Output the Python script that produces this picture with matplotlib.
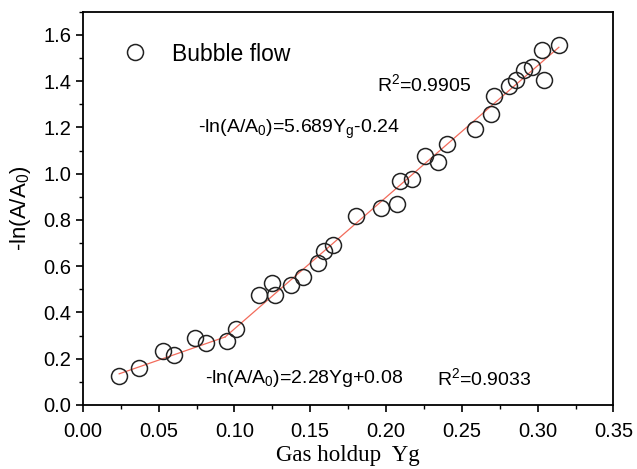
import matplotlib
matplotlib.use('Agg')
import matplotlib.pyplot as plt
import numpy as np
from matplotlib.ticker import MultipleLocator

plt.rcParams['font.family'] = ['Liberation Sans', 'DejaVu Sans']
plt.rcParams['mathtext.fontset'] = 'custom'
plt.rcParams['mathtext.rm'] = 'Liberation Sans'
plt.rcParams['mathtext.it'] = 'Liberation Sans'

# measured points (gas holdup, -ln(A/A0))
gas_holdup = [0.024, 0.037, 0.053, 0.060, 0.074, 0.081, 0.095, 0.101,
              0.116, 0.125, 0.127, 0.137, 0.145, 0.155, 0.159, 0.165,
              0.180, 0.197, 0.207, 0.209, 0.217, 0.226, 0.234, 0.240,
              0.259, 0.269, 0.271, 0.281, 0.286, 0.291, 0.296, 0.303,
              0.304, 0.314]
ln_ratio = [0.127, 0.159, 0.235, 0.216, 0.291, 0.270, 0.277, 0.329,
            0.476, 0.527, 0.476, 0.519, 0.553, 0.613, 0.664, 0.693,
            0.817, 0.851, 0.868, 0.970, 0.976, 1.076, 1.051, 1.130,
            1.195, 1.258, 1.335, 1.381, 1.404, 1.450, 1.462, 1.534,
            1.405, 1.554]

# two linear fits from the chart
fit_low = (2.28, 0.08)
fit_high = (5.689, -0.24)

fig = plt.figure(figsize=(6.37, 4.69), dpi=100)
ax = fig.add_axes([0.13, 0.1365, 0.833, 0.8385])

x_cross = (fit_high[1] - fit_low[1]) / (fit_low[0] - fit_high[0])
x1 = np.array([min(gas_holdup), x_cross])
x2 = np.array([x_cross, max(gas_holdup)])
ax.plot(x1, fit_low[0] * x1 + fit_low[1], color='#f26b5b', lw=0.9, zorder=2)
ax.plot(x2, fit_high[0] * x2 + fit_high[1], color='#f26b5b', lw=0.9, zorder=2)

ax.plot(gas_holdup, ln_ratio, 'o', ms=11.5, mfc='none', mec='#222222',
        mew=1.1, label='Bubble flow', zorder=3)

ax.set_xlim(0, 0.35)
ax.set_ylim(0, 1.7)
ax.xaxis.set_major_locator(MultipleLocator(0.05))
ax.xaxis.set_minor_locator(MultipleLocator(0.025))
ax.yaxis.set_major_locator(MultipleLocator(0.2))
ax.yaxis.set_minor_locator(MultipleLocator(0.1))
ax.xaxis.set_major_formatter(plt.FormatStrFormatter('%.2f'))
ax.yaxis.set_major_formatter(plt.FormatStrFormatter('%.1f'))
ax.tick_params(which='major', length=5, width=1.2, labelsize=14.5, direction='out')
ax.tick_params(which='minor', length=3, width=1.0, direction='out')
ax.tick_params(axis='x', which='major', pad=7)
for s in ax.spines.values():
    s.set_linewidth(1.3)

ax.set_xlabel('Gas holdup  Yg', family='Liberation Serif', fontsize=16.5, labelpad=3)
ax.set_ylabel(r'-ln(A/A$_\mathregular{0}$)', fontsize=16, labelpad=7)

ax.legend(loc='upper left', bbox_to_anchor=(0.038, 0.945), frameon=False,
          fontsize=16.5, handletextpad=0.6, borderaxespad=0)

ax.text(0.1939, 1.356, r'R$^\mathregular{2}$=0.9905', fontsize=14, va='baseline')
ax.text(0.076, 1.177, r'-ln(A/A$_\mathregular{0}$)=5.689Y$_\mathregular{g}$-0.24',
        fontsize=14, va='baseline')
ax.text(0.0807, 0.095, r'-ln(A/A$_\mathregular{0}$)=2.28Yg+0.08', fontsize=14,
        va='baseline')
ax.text(0.2336, 0.0866, r'R$^\mathregular{2}$=0.9033', fontsize=14, va='baseline')

fig.savefig('out.png', dpi=100)
